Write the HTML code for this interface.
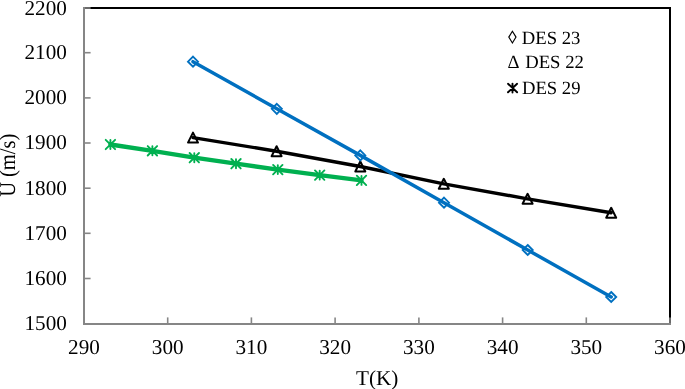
<!DOCTYPE html>
<html><head><meta charset="utf-8"><style>
html,body{margin:0;padding:0;background:#fff;}
body{width:685px;height:389px;overflow:hidden;}
svg{display:block;}
text{font-family:"Liberation Serif", serif;fill:#000;}
svg{will-change:transform;}
text{text-rendering:geometricPrecision;}
</style></head><body>
<svg width="685" height="389" viewBox="0 0 685 389">
<rect width="685" height="389" fill="#fff"/>
<rect x="84.0" y="8.0" width="586.0" height="316.0" fill="none" stroke="#000" stroke-width="2"/>
<g stroke="#868686" stroke-width="2" fill="none">
<path d="M84.0 7.0V324.0H671.0"/>
<path d="M84.0 8.0H90.6" stroke-width="1.6"/>
<path d="M84.0 52.7H90.6" stroke-width="1.6"/>
<path d="M84.0 97.9H90.6" stroke-width="1.6"/>
<path d="M84.0 143.0H90.6" stroke-width="1.6"/>
<path d="M84.0 188.2H90.6" stroke-width="1.6"/>
<path d="M84.0 233.3H90.6" stroke-width="1.6"/>
<path d="M84.0 278.5H90.6" stroke-width="1.6"/>
<path d="M84.0 324.0H90.6" stroke-width="1.6"/>
<path d="M84.0 324.0V317.4" stroke-width="1.6"/>
<path d="M167.7 324.0V317.4" stroke-width="1.6"/>
<path d="M251.4 324.0V317.4" stroke-width="1.6"/>
<path d="M335.1 324.0V317.4" stroke-width="1.6"/>
<path d="M418.9 324.0V317.4" stroke-width="1.6"/>
<path d="M502.6 324.0V317.4" stroke-width="1.6"/>
<path d="M586.3 324.0V317.4" stroke-width="1.6"/>
<path d="M670.0 324.0V317.4" stroke-width="1.6"/>
</g>
<polyline points="110.4,144.5 152.4,150.8 194.3,157.7 236.0,163.7 277.8,169.6 319.7,175.1 361.5,180.4" fill="none" stroke="#00B050" stroke-width="4.3" stroke-linejoin="round" stroke-linecap="round"/>
<polyline points="193.0,137.6 276.6,151.2 360.3,166.5 443.8,183.8 527.6,198.8 611.2,212.8" fill="none" stroke="#000" stroke-width="3.4" stroke-linejoin="round" stroke-linecap="round"/>
<polyline points="193.0,61.7 276.8,108.8 360.3,155.4 444.0,202.7 527.7,250.0 611.2,297.0" fill="none" stroke="#0070C0" stroke-width="3.5" stroke-linejoin="round" stroke-linecap="round"/>
<g fill="none" stroke="#000" stroke-width="2" stroke-linejoin="round"><path d="M193.0 132.6L198.0 142.6L188.0 142.6Z"/><path d="M276.6 146.2L281.6 156.2L271.6 156.2Z"/><path d="M360.3 161.5L365.3 171.5L355.3 171.5Z"/><path d="M443.8 178.8L448.8 188.8L438.8 188.8Z"/><path d="M527.6 193.8L532.6 203.8L522.6 203.8Z"/><path d="M611.2 207.8L616.2 217.8L606.2 217.8Z"/></g>
<g fill="none" stroke="#00B050" stroke-width="1.9" stroke-linecap="round"><path d="M105.7 139.8L115.1 149.2M115.1 139.8L105.7 149.2M110.4 140.0L110.4 149.0"/><path d="M147.7 146.1L157.1 155.5M157.1 146.1L147.7 155.5M152.4 146.3L152.4 155.3"/><path d="M189.6 153.0L199.0 162.4M199.0 153.0L189.6 162.4M194.3 153.2L194.3 162.2"/><path d="M231.3 159.0L240.7 168.4M240.7 159.0L231.3 168.4M236.0 159.2L236.0 168.2"/><path d="M273.1 164.9L282.5 174.3M282.5 164.9L273.1 174.3M277.8 165.1L277.8 174.1"/><path d="M315.0 170.4L324.4 179.8M324.4 170.4L315.0 179.8M319.7 170.6L319.7 179.6"/><path d="M356.8 175.7L366.2 185.1M366.2 175.7L356.8 185.1M361.5 175.9L361.5 184.9"/></g>
<g fill="none" stroke="#0070C0" stroke-width="1.9" stroke-linejoin="miter"><path d="M193.0 56.7L198.0 61.7L193.0 66.7L188.0 61.7Z"/><path d="M276.8 103.8L281.8 108.8L276.8 113.8L271.8 108.8Z"/><path d="M360.3 150.4L365.3 155.4L360.3 160.4L355.3 155.4Z"/><path d="M444.0 197.7L449.0 202.7L444.0 207.7L439.0 202.7Z"/><path d="M527.7 245.0L532.7 250.0L527.7 255.0L522.7 250.0Z"/><path d="M611.2 292.0L616.2 297.0L611.2 302.0L606.2 297.0Z"/></g>
<g font-size="21.2">
<text x="66.9" y="15" text-anchor="end">2200</text>
<text x="66.9" y="59" text-anchor="end">2100</text>
<text x="66.9" y="104" text-anchor="end">2000</text>
<text x="66.9" y="149" text-anchor="end">1900</text>
<text x="66.9" y="195" text-anchor="end">1800</text>
<text x="66.9" y="240" text-anchor="end">1700</text>
<text x="66.9" y="285" text-anchor="end">1600</text>
<text x="66.9" y="330" text-anchor="end">1500</text>
<text x="84.0" y="354.4" text-anchor="middle">290</text>
<text x="167.7" y="354.4" text-anchor="middle">300</text>
<text x="251.4" y="354.4" text-anchor="middle">310</text>
<text x="335.1" y="354.4" text-anchor="middle">320</text>
<text x="418.9" y="354.4" text-anchor="middle">330</text>
<text x="502.6" y="354.4" text-anchor="middle">340</text>
<text x="586.3" y="354.4" text-anchor="middle">350</text>
<text x="670.0" y="354.4" text-anchor="middle">360</text>
<text x="377.2" y="384.8" text-anchor="middle">T(K)</text>
<text transform="translate(14.7 165.3) rotate(-90) scale(0.91 1)" text-anchor="middle" font-size="22.5">U (m/s)</text>
</g>
<text x="521.8" y="43.6" font-size="18.7">DES 23</text>
<text x="525.2" y="68.1" font-size="18.7">DES 22</text>
<text x="521.9" y="93.8" font-size="18.7">DES 29</text>
<path d="M512.4 31.3L516.0 37.1L512.4 43.0L508.8 37.1Z" stroke="#000" stroke-width="1.15" fill="none"/>
<text x="507.5" y="68.1" font-size="18.7">Δ</text>
<path d="M508.0 83.8L517.1 92.3M517.1 83.8L508.0 92.3M512.5 83.6V92.5" stroke="#000" stroke-width="1.9" stroke-linecap="round" fill="none"/>
</svg>
</body></html>
